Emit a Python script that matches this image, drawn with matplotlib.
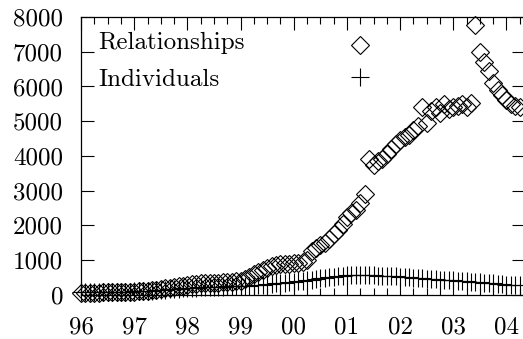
import numpy as np
import matplotlib
matplotlib.use("Agg")
import matplotlib.pyplot as plt

# monthly counts, Jan 1996 onwards
relationships = [
    50, 55, 60, 60, 65, 70, 70, 75, 80, 80, 85, 90,
    95, 100, 110, 120, 130, 150, 170, 190, 210, 230, 250, 270,
    300, 310, 320, 330, 340, 340, 350, 350, 360, 370, 380, 390,
    400, 450, 520, 600, 660, 720, 780, 830, 870, 890, 900, 900,
    910, 920, 950, 1000, 1250, 1350, 1450, 1500, 1620, 1750, 1870, 2050,
    2250, 2350, 2450, 2650, 2900, 3900, 3750, 3850, 3900, 4050, 4200, 4350,
    4450, 4550, 4600, 4750, 4850, 5400, 4950, 5300, 5400, 5250, 5500, 5350,
    5400, 5450, 5500, 5400, 5520, 7780, 7000, 6700, 6450, 6100, 5900, 5750,
    5600, 5500, 5450, 5400,
]
individuals = [
    70, 72, 75, 78, 80, 82, 85, 88, 90, 92, 95, 98,
    100, 105, 110, 115, 120, 130, 140, 150, 160, 170, 180, 190,
    200, 205, 210, 215, 220, 225, 230, 235, 240, 245, 250, 255,
    260, 265, 270, 280, 290, 300, 310, 320, 330, 340, 355, 370,
    385, 400, 415, 425, 440, 455, 475, 495, 510, 525, 540, 555,
    565, 570, 575, 575, 570, 565, 560, 555, 550, 545, 540, 535,
    530, 520, 510, 500, 490, 480, 470, 460, 450, 440, 435, 430,
    420, 410, 400, 390, 380, 370, 360, 350, 340, 330, 320, 310,
    300, 295, 290, 285,
]
year_ticks = [1996, 1997, 1998, 1999, 2000, 2001, 2002, 2003, 2004]
year_labels = ["96", "97", "98", "99", "00", "01", "02", "03", "04"]
count_ticks = [0, 1000, 2000, 3000, 4000, 5000, 6000, 7000, 8000]

dates = 1996 + np.arange(len(relationships)) / 12.0

plt.rcParams["font.family"] = "cmr10"
plt.rcParams["font.size"] = 18

fig = plt.figure(figsize=(5.23, 3.39), dpi=100)
ax = fig.add_axes([0.155, 0.130, 0.847, 0.820])

diamond = dict(linestyle="none", marker="D", markersize=9, markerfacecolor="none",
               markeredgecolor="black", markeredgewidth=0.8, clip_on=False)
cross = dict(linestyle="none", marker="+", markersize=13, color="black",
             markeredgewidth=0.8, clip_on=False)

ax.plot(dates, relationships, **diamond)
ax.plot(dates, individuals, **cross)

ax.set_xlim(1996, 2004.33)
ax.set_ylim(0, 8000)
ax.set_xticks(year_ticks)
ax.set_xticklabels(year_labels)
ax.set_xticks(np.arange(1996, 2004.3, 0.25), minor=True)
ax.set_yticks(count_ticks)
ax.set_yticklabels([str(v) for v in count_ticks])

ax.tick_params(which="both", direction="in", top=True, right=True, width=0.8)
ax.tick_params(which="major", length=9)
ax.tick_params(which="minor", length=5)
ax.tick_params(axis="x", which="both", bottom=True, pad=15.5)
ax.tick_params(axis="y", pad=13)
ax.yaxis.set_tick_params(which="minor", left=False, right=False)
for sp in ax.spines.values():
    sp.set_linewidth(0.9)

# key: label on the left, sample symbol further right
ax.text(0.038, 0.885, "Relationships", transform=ax.transAxes, va="baseline")
ax.text(0.038, 0.752, "Individuals", transform=ax.transAxes, va="baseline")
ax.plot([0.629], [0.899], transform=ax.transAxes, **diamond)
ax.plot([0.629], [0.784], transform=ax.transAxes, **cross)

fig.savefig("out.png", dpi=100)
